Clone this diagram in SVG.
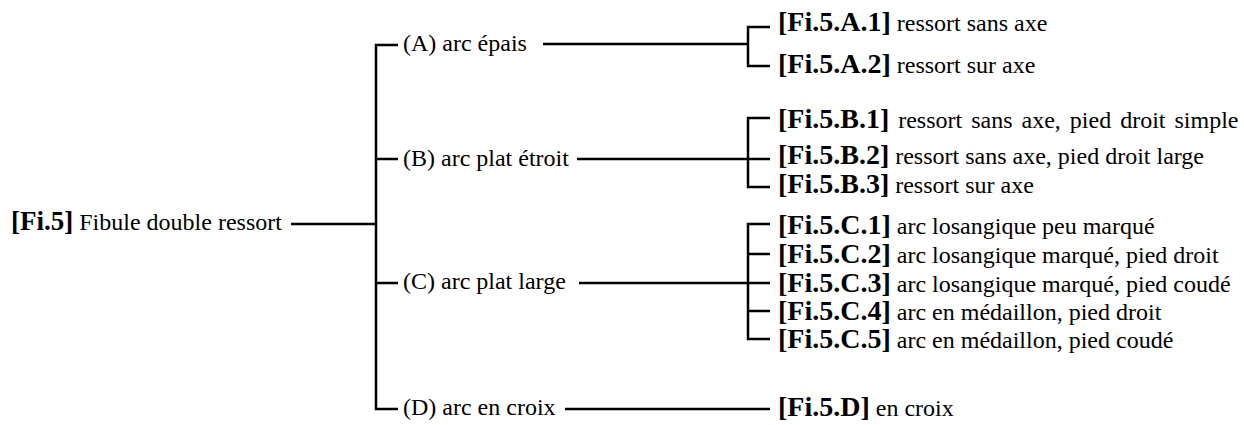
<svg xmlns="http://www.w3.org/2000/svg" width="1244" height="425" viewBox="0 0 1244 425">
<style>
text{font-family:'Liberation Serif','Tinos','Times New Roman','Nimbus Roman','DejaVu Serif',serif;font-size:24px;fill:#000}
.b{font-weight:bold;font-size:28px}
.rb{font-weight:bold;font-size:27px}
#connectors path{fill:none;stroke:#000;stroke-width:2.5}
</style>
<rect width="1244" height="425" fill="#fff"/>
<g id="connectors">
<path d="M291 224H376M398 45H376V409H398M376 159H398M376 283H398"/>
<path d="M543 44H748M770 27H748V66H770"/>
<path d="M577 159H770M770 118H748V187H770"/>
<path d="M579 283H770M770 224H748V339H770M748 254H770M748 311H770"/>
<path d="M565 409H770"/>
</g>
<g id="root"><text x="11" y="230"><tspan class="rb">[Fi.5]</tspan> Fibule double ressort</text></g>
<g id="A"><text x="403" y="51">(A) arc épais</text></g>
<g id="B"><text x="403" y="166">(B) arc plat étroit</text></g>
<g id="C"><text x="403" y="289">(C) arc plat large</text></g>
<g id="D"><text x="403" y="415">(D) arc en croix</text></g>
<g id="A1"><text x="778" y="31"><tspan class="b">[Fi.5.A.1]</tspan> ressort sans axe</text></g>
<g id="A2"><text x="778" y="73"><tspan class="b">[Fi.5.A.2]</tspan> ressort sur axe</text></g>
<g id="B1"><text x="778" y="128" word-spacing="3"><tspan class="b">[Fi.5.B.1]</tspan> ressort sans axe, pied droit simple</text></g>
<g id="B2"><text x="778" y="164"><tspan class="b">[Fi.5.B.2]</tspan> ressort sans axe, pied droit large</text></g>
<g id="B3"><text x="778" y="193"><tspan class="b">[Fi.5.B.3]</tspan> ressort sur axe</text></g>
<g id="C1"><text x="778" y="234"><tspan class="b">[Fi.5.C.1]</tspan> arc losangique peu marqué</text></g>
<g id="C2"><text x="778" y="263"><tspan class="b">[Fi.5.C.2]</tspan> arc losangique marqué, pied droit</text></g>
<g id="C3"><text x="778" y="292"><tspan class="b">[Fi.5.C.3]</tspan> arc losangique marqué, pied coudé</text></g>
<g id="C4"><text x="778" y="320"><tspan class="b">[Fi.5.C.4]</tspan> arc en médaillon, pied droit</text></g>
<g id="C5"><text x="778" y="348"><tspan class="b">[Fi.5.C.5]</tspan> arc en médaillon, pied coudé</text></g>
<g id="Dx"><text x="778" y="416"><tspan class="b">[Fi.5.D]</tspan> en croix</text></g>
</svg>
